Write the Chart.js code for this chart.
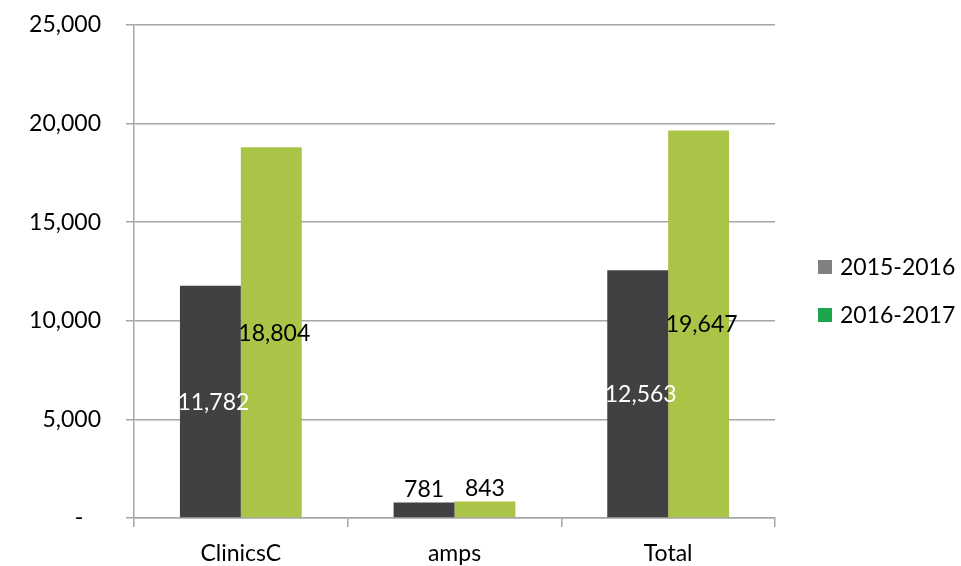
<!DOCTYPE html>
<html>
<head>
<meta charset="utf-8">
<script src="https://cdn.jsdelivr.net/npm/chart.js@4"></script>
<style>
  html, body { margin: 0; padding: 0; background: #fff; }
  #wrap { width: 961px; height: 566px; }
</style>
</head>
<body>
<div id="wrap"><canvas id="chart" width="961" height="566"></canvas></div>
<script>
const categories = ['ClinicsC', 'amps', 'Total'];
const seriesNames = ['2015-2016', '2016-2017'];
const values2015 = [11782, 781, 12563];
const values2016 = [18804, 843, 19647];
const barColors = ['#414143', '#aac447'];
const legendColors = ['#808080', '#1ea64f'];
const labelColors = ['#ffffff', '#000000'];
const yTicks = [0, 5000, 10000, 15000, 20000, 25000];

const FONT = 'Lato, "Open Sans", sans-serif';
const gridColor = '#a6a6a6';

// value labels, inside the bar when it is tall, above it otherwise
const barLabels = {
  id: 'barLabels',
  afterDatasetsDraw(c) {
    const ctx = c.ctx;
    ctx.save();
    ctx.font = `23px ${FONT}`;
    ctx.textAlign = 'center';
    ctx.textBaseline = 'middle';
    c.data.datasets.forEach((ds, i) => {
      c.getDatasetMeta(i).data.forEach((bar, j) => {
        const txt = ds.data[j].toLocaleString('en-US');
        const h = bar.base - bar.y;
        if (h > 40) {
          ctx.fillStyle = labelColors[i];
          ctx.fillText(txt, bar.x + 3, bar.y + h / 2 + 1);
        } else {
          ctx.fillStyle = '#000';
          ctx.fillText(txt, bar.x, bar.y - 13);
        }
      });
    });
    ctx.restore();
  }
};

// legend on the right, legend swatches use their own colours
const sideLegend = {
  id: 'sideLegend',
  afterDraw(c) {
    const ctx = c.ctx;
    ctx.save();
    ctx.font = `23px ${FONT}`;
    ctx.textBaseline = 'middle';
    ctx.textAlign = 'left';
    c.data.datasets.forEach((ds, i) => {
      const y = 267 + i * 48;
      ctx.fillStyle = legendColors[i];
      ctx.fillRect(818, y - 7, 14, 14);
      ctx.fillStyle = '#000';
      ctx.fillText(ds.label, 840, y + 1);
    });
    ctx.restore();
  }
};

new Chart(document.getElementById('chart'), {
  type: 'bar',
  data: {
    labels: categories,
    datasets: [
      { label: seriesNames[0], data: values2015, backgroundColor: barColors[0] },
      { label: seriesNames[1], data: values2016, backgroundColor: barColors[1] }
    ]
  },
  options: {
    responsive: false,
    animation: false,
    devicePixelRatio: 1,
    layout: { padding: { top: 25, right: 186, bottom: 0, left: 0 } },
    datasets: { bar: { categoryPercentage: 0.57, barPercentage: 1 } },
    plugins: { legend: { display: false }, tooltip: { enabled: false } },
    scales: {
      x: {
        grid: { drawOnChartArea: false, drawTicks: true, tickLength: 9, color: gridColor, lineWidth: 1.5 },
        border: { color: gridColor, width: 1.5 },
        ticks: { color: '#000', font: { family: FONT, size: 23 }, padding: 13 },
        afterFit: (s) => { s.height = 48; }
      },
      y: {
        min: 0,
        max: 25000,
        afterBuildTicks: (s) => { s.ticks = yTicks.map((v) => ({ value: v })); },
        grid: { color: gridColor, lineWidth: 1.5, tickLength: 8 },
        border: { color: gridColor, width: 1.5 },
        ticks: {
          color: '#000',
          font: { family: FONT, size: 23 },
          padding: 25,
          callback: (v) => (v === 0 ? '-   ' : v.toLocaleString('en-US'))
        },
        afterFit: (s) => {
          s.width = 134;
          s.paddingTop = 14;
          s.paddingBottom = 0;
        }
      }
    }
  },
  plugins: [barLabels, sideLegend]
});
</script>
</body>
</html>
